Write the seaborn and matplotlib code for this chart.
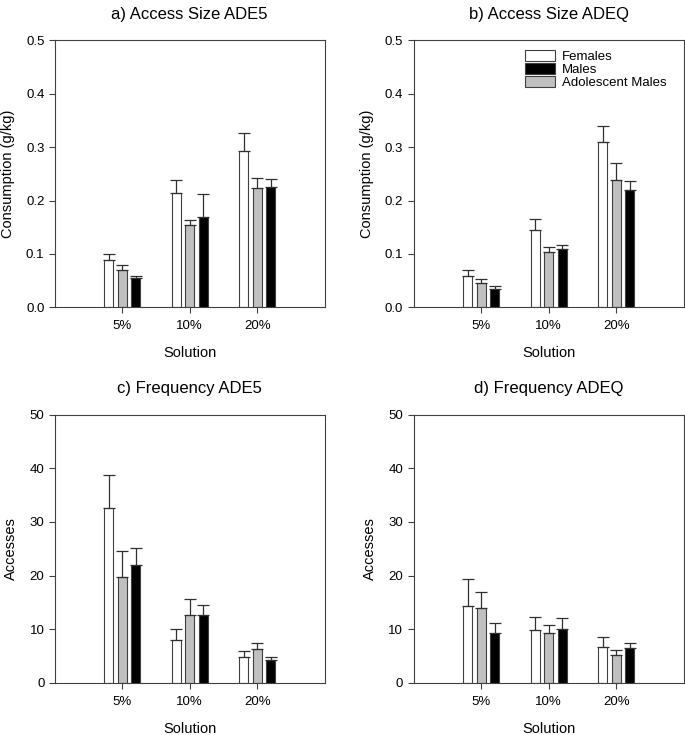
import numpy as np
import pandas as pd
import matplotlib
matplotlib.use("Agg")
import matplotlib.pyplot as plt
import seaborn as sns
from matplotlib.patches import Patch
from matplotlib.container import BarContainer

solutions = ["5%", "10%", "20%"]
groups = ["Females", "Adolescent Males", "Males"]
legend_order = ["Females", "Males", "Adolescent Males"]
colors = {"Females": "white", "Adolescent Males": "#c0c0c0", "Males": "black"}

# rows follow groups order, columns follow solutions
size_ade5_mean = [[0.088, 0.215, 0.293], [0.070, 0.155, 0.223], [0.0555, 0.170, 0.226]]
size_ade5_err = [[0.012, 0.024, 0.034], [0.0085, 0.009, 0.0195], [0.0035, 0.042, 0.015]]
size_adeq_mean = [[0.059, 0.144, 0.309], [0.045, 0.103, 0.239], [0.035, 0.109, 0.220]]
size_adeq_err = [[0.011, 0.022, 0.031], [0.0075, 0.009, 0.031], [0.004, 0.0085, 0.017]]
freq_ade5_mean = [[32.5, 7.96, 4.85], [19.8, 12.56, 6.34], [21.9, 12.56, 4.23]]
freq_ade5_err = [[6.2, 2.04, 1.12], [4.8, 3.04, 1.06], [3.3, 1.99, 0.56]]
freq_adeq_mean = [[14.4, 9.8, 6.6], [13.9, 9.2, 5.16], [9.2, 10.1, 6.47]]
freq_adeq_err = [[4.9, 2.5, 1.86], [2.95, 1.6, 1.0], [2.0, 1.9, 1.0]]

panels = [
    ("a) Access Size ADE5", "Consumption (g/kg)", size_ade5_mean, size_ade5_err, 0.5, 0.1),
    ("b) Access Size ADEQ", "Consumption (g/kg)", size_adeq_mean, size_adeq_err, 0.5, 0.1),
    ("c) Frequency ADE5", "Accesses", freq_ade5_mean, freq_ade5_err, 50, 10),
    ("d) Frequency ADEQ", "Accesses", freq_adeq_mean, freq_adeq_err, 50, 10),
]

plt.rcParams["font.family"] = ["Liberation Sans", "DejaVu Sans"]
plt.rcParams["axes.edgecolor"] = "#404040"
plt.rcParams["xtick.color"] = "#404040"
plt.rcParams["ytick.color"] = "#404040"
plt.rcParams["xtick.labelcolor"] = "black"
plt.rcParams["ytick.labelcolor"] = "black"

fig = plt.figure(figsize=(6.85, 7.35), dpi=100)
boxes = [
    [0.080, 0.582, 0.394, 0.363],
    [0.604, 0.582, 0.394, 0.363],
    [0.080, 0.071, 0.394, 0.365],
    [0.604, 0.071, 0.394, 0.365],
]

for k, (title, ylab, means, errs, ymax, step) in enumerate(panels):
    ax = fig.add_axes(boxes[k])
    rows = []
    for gi, g in enumerate(groups):
        for si, s in enumerate(solutions):
            rows.append({"Solution": s, "Group": g, "value": means[gi][si]})
    df = pd.DataFrame(rows)
    sns.barplot(data=df, x="Solution", y="value", hue="Group", order=solutions,
                hue_order=groups, palette=colors, width=0.6, gap=0.35,
                edgecolor="#404040", linewidth=0.8, errorbar=None, legend=False, ax=ax)
    # upward-only error bars on top of each bar
    bar_conts = [c for c in ax.containers if isinstance(c, BarContainer)]
    for gi, cont in enumerate(bar_conts):
        for si, bar in enumerate(cont):
            xc = bar.get_x() + bar.get_width() / 2
            h = bar.get_height()
            ax.errorbar([xc], [h], yerr=[[0], [errs[gi][si]]], fmt="none",
                        ecolor="#303030", elinewidth=0.9, capsize=4, capthick=0.9)
    ax.set_xlim(-1, 3)
    ax.set_ylim(0, ymax)
    ticks = np.arange(0, ymax + step / 2, step)
    ax.set_yticks(ticks)
    if ymax < 1:
        ax.set_yticklabels([f"{v:.1f}" for v in ticks])
    else:
        ax.set_yticklabels([f"{v:.0f}" for v in ticks])
    ax.tick_params(axis="both", labelsize=9.5, length=4, width=0.8, direction="out")
    ax.tick_params(axis="x", pad=5.5)
    ax.set_xlabel("Solution", fontsize=10.5, labelpad=10)
    ax.set_ylabel(ylab, fontsize=10.5, labelpad=8)
    ax.set_title(title, fontsize=12, pad=15.5)
    for sp in ax.spines.values():
        sp.set_linewidth(0.8)
    if k == 1:
        handles = [Patch(facecolor=colors[g], edgecolor="#404040", linewidth=0.8, label=g)
                   for g in legend_order]
        ax.legend(handles=handles, loc="upper right", bbox_to_anchor=(0.965, 0.995),
                  frameon=False, fontsize=9.5, handlelength=2.3, handleheight=0.9,
                  labelspacing=0.0, handletextpad=0.5, borderaxespad=0.2)

fig.savefig("out.png", dpi=100)
